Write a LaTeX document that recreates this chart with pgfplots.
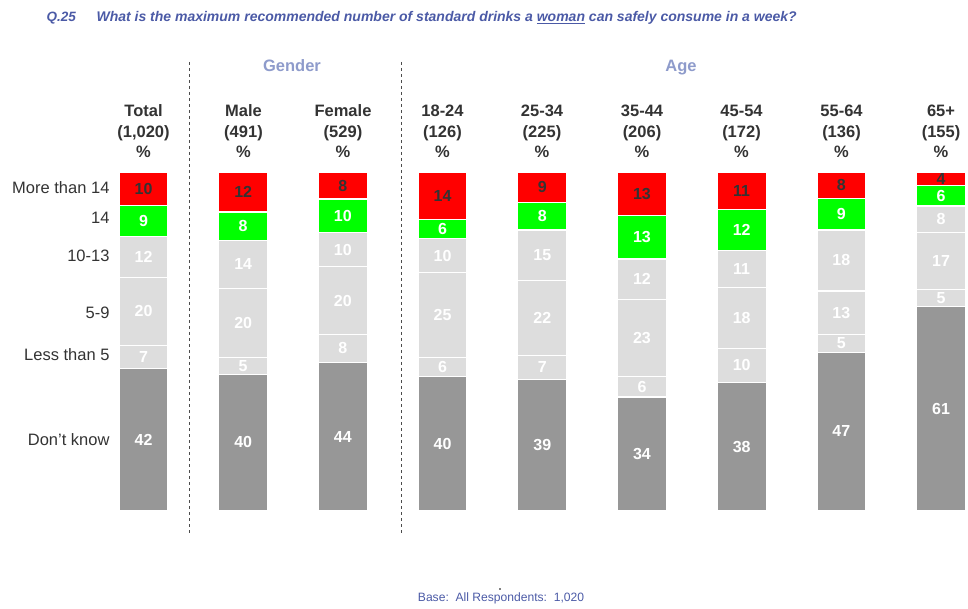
\documentclass[border=0pt]{standalone}
\usepackage{pgfplots}
\usepackage{pgfplotstable}
\usepackage{fontspec}
\setmainfont{Liberation Sans}
\pgfplotsset{compat=1.18}
\definecolor{segred}{HTML}{FF0000}
\definecolor{seggreen}{HTML}{00FF00}
\definecolor{seglight}{HTML}{DDDDDD}
\definecolor{segdark}{HTML}{979797}
\definecolor{txtdark}{HTML}{333333}
\definecolor{titleblue}{HTML}{4B5AA6}
\definecolor{headblue}{HTML}{8E9BCB}
% segment heights (as drawn, %) and their printed labels
\pgfplotstableread{
x dk   lt5 f59  f1013 f14  mt14 Ldk Llt5 Lf59 Lf1013 Lf14 Lmt14
0 41.9 6.9 20.1 12.0  9.15 9.95 42  7    20   12     9    10
1 40.3 5.0 20.4 14.1  8.4  11.8 40  5    20   14     8    12
2 43.8 8.3 19.9 10.1  9.9  8.0  44  8    20   10     10   8
3 39.6 5.7 25.0 10.0  5.7  14.0 40  6    25   10     6    14
4 38.8 7.1 22.0 15.0  8.1  9.0  39  7    22   15     8    9
5 33.6 6.1 22.6 12.0  12.9 12.8 34  6    23   12     13   13
6 37.9 10.0 18.0 10.9 12.1 11.1 38  10   18   11     12   11
7 46.8 5.2 12.9 18.0  9.2  7.9  47  5    13   18     9    8
8 60.3 5.1 16.8 7.8   6.0  4.0  61  5    17   8      6    4
}\data
\begin{document}
\begin{tikzpicture}
\begin{axis}[
  at={(0,0)}, anchor=south west,
  width=968pt, height=608pt, scale only axis,
  xmin=-1.4395, xmax=8.2706, ymin=-28.73, ymax=150.78,
  hide axis, clip=false,
  ybar stacked, bar width=49pt,
  point meta=explicit,
  seg/.style={fill=#1, draw=white, line width=1.3pt},
  lab/.style={nodes near coords={\pgfmathprintnumber[assume math mode=true]{\pgfplotspointmeta}},
    every node near coord/.style={anchor=center, text=#1,
      font=\bfseries\fontsize{16}{18}\selectfont}},
]
\addplot[seg=segdark, lab=white] table[x=x,y=dk,meta=Ldk]{\data};
\addplot[seg=seglight, lab=white] table[x=x,y=lt5,meta=Llt5]{\data};
\addplot[seg=seglight, lab=white] table[x=x,y=f59,meta=Lf59]{\data};
\addplot[seg=seglight, lab=white] table[x=x,y=f1013,meta=Lf1013]{\data};
\addplot[seg=seggreen, lab=white] table[x=x,y=f14,meta=Lf14]{\data};
\addplot[seg=segred, lab=txtdark] table[x=x,y=mt14,meta=Lmt14]{\data};
\end{axis}
% title
\node[anchor=west, text=titleblue, font=\bfseries\itshape\fontsize{13.5}{15}\selectfont] at (43pt,590pt) {Q.25};
\node[anchor=west, text=titleblue, font=\bfseries\itshape\fontsize{14}{15}\selectfont] at (93pt,590pt) {What is the maximum recommended number of standard drinks a \underline{woman} can safely consume in a week?};
% group headers
\node[anchor=base, text=headblue, font=\bfseries\fontsize{16.5}{18}\selectfont] at (292pt,536pt) {Gender};
\node[anchor=base, text=headblue, font=\bfseries\fontsize{16.5}{18}\selectfont] at (681pt,536pt) {Age};
% dashed separators
\draw[black!70, line width=0.8pt, dash pattern=on 3pt off 3pt] (189pt,546pt) -- (189pt,75pt);
\draw[black!70, line width=0.8pt, dash pattern=on 3pt off 3pt] (401pt,546pt) -- (401pt,75pt);
% category labels
\foreach \xx/\lab in {143.5/{Total\\(1,020)\\\%}, 243.5/{Male\\(491)\\\%}, 343/{Female\\(529)\\\%},
  442.5/{18-24\\(126)\\\%}, 542/{25-34\\(225)\\\%}, 642/{35-44\\(206)\\\%},
  741.5/{45-54\\(172)\\\%}, 841.5/{55-64\\(136)\\\%}, 941/{65+\\(155)\\\%}}
  \node[align=center, text=txtdark, font=\bfseries\fontsize{16.5}{20.5}\selectfont] at (\xx pt,476.5pt) {\lab};
% row labels
\foreach \yy/\lab in {420/{More than 14}, 390/{14}, 352/{10-13}, 295/{5-9}, 253/{Less than 5}, 168/{Don’t know}}
  \node[anchor=east, text=txtdark, font=\fontsize{16.5}{18}\selectfont] at (113pt,\yy pt) {\lab};
% base
\fill[black] (500pt,19pt) circle (0.9pt);
\node[text=titleblue, font=\fontsize{12.1}{14}\selectfont] at (501pt,10pt) {Base:\ \ All Respondents:\ \ 1,020};
\pgfresetboundingbox
\path (0,0) rectangle (968pt,608pt);
\end{tikzpicture}
\end{document}
